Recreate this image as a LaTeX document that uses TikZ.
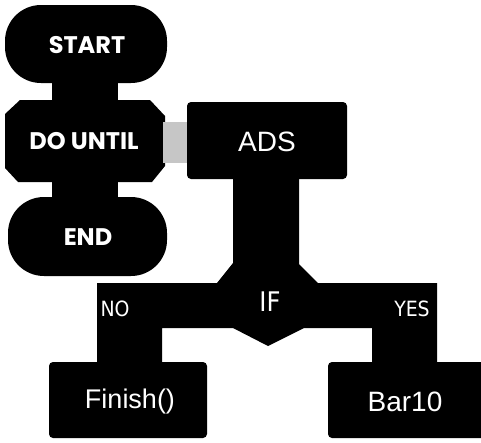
\documentclass[tikz,border=0pt]{standalone}
\usepackage{fontspec}
\newfontfamily\futura{Poppins}
\newfontfamily\helv{Liberation Sans}
\newfontfamily\cond{DejaVu Sans Condensed}
\begin{document}
\begin{tikzpicture}[x=1pt,y=-1pt,
  blk/.style={fill=black,draw=none},
  capsbox/.style={text=white,font=\futura\bfseries\fontsize{24}{24}\selectfont,inner sep=0pt},
  plainbox/.style={fill=black,rounded corners=4pt,inner sep=0pt},
  boxtxt/.style={text=white,font=\helv\fontsize{28}{28}\selectfont,inner sep=0pt},
  lbl/.style={text=white,font=\cond\fontsize{21}{21}\selectfont,inner sep=0pt},
]
\useasboundingbox (0,0) rectangle (481,442);
\clip (0,0) rectangle (481,442);
% terminal / loop shapes
\node[blk,rounded corners=36pt,minimum width=162pt,minimum height=78pt,inner sep=0pt] (startbg) at (86,44) {};
\node[blk,rounded corners=36pt,minimum width=159pt,minimum height=79pt,inner sep=0pt] (endbg) at (87.5,236.5) {};
\fill[black] (20,100) -- (150,100) -- (165,116) -- (165,166) -- (152,182) -- (18,182) -- (5,168) -- (5,114) -- cycle;
\coordinate (du) at (84,141);
% connecting bars
\fill[black] (52,80) rectangle (118,103);
\fill[black] (52,180) rectangle (118,200);
\fill[gray!45] (163,122) rectangle (189,163);
% ADS box
\node[plainbox,minimum width=160pt,minimum height=77pt] (adsbg) at (267,140.5) {};
% IF structure
\fill[black] (233,177) -- (233,263) -- (217,283) -- (97,283) -- (97,366) -- (162,366) -- (162,328)
  -- (233,328) -- (268,346) -- (304,328) -- (372,328) -- (372,366) -- (437,366) -- (437,283)
  -- (318,283) -- (299,264) -- (299,177) -- cycle;
% leaf boxes
\node[plainbox,minimum width=158pt,minimum height=76pt] (finishbg) at (128,400) {};
\node[plainbox,minimum width=160pt,minimum height=76pt] (barbg) at (408,400) {};
% texts
\node[capsbox] (start) at (87,45) {START};
\node[capsbox] (dountil) at (du) {DO UNTIL};
\node[capsbox] (end) at (88,237) {END};
\node[boxtxt] (ads) at (267,142) {ADS};
\node[boxtxt,font=\helv\fontsize{27}{27}\selectfont] (finish) at (130,402) {Finish()};
\node[boxtxt] (bar) at (405,402) {Bar10};
\node[lbl] (no) at (115,309) {NO};
\node[lbl,font=\cond\fontsize{27}{27}\selectfont] (if) at (270,302) {IF};
\node[lbl] (yes) at (412,309) {YES};
\end{tikzpicture}
\end{document}
